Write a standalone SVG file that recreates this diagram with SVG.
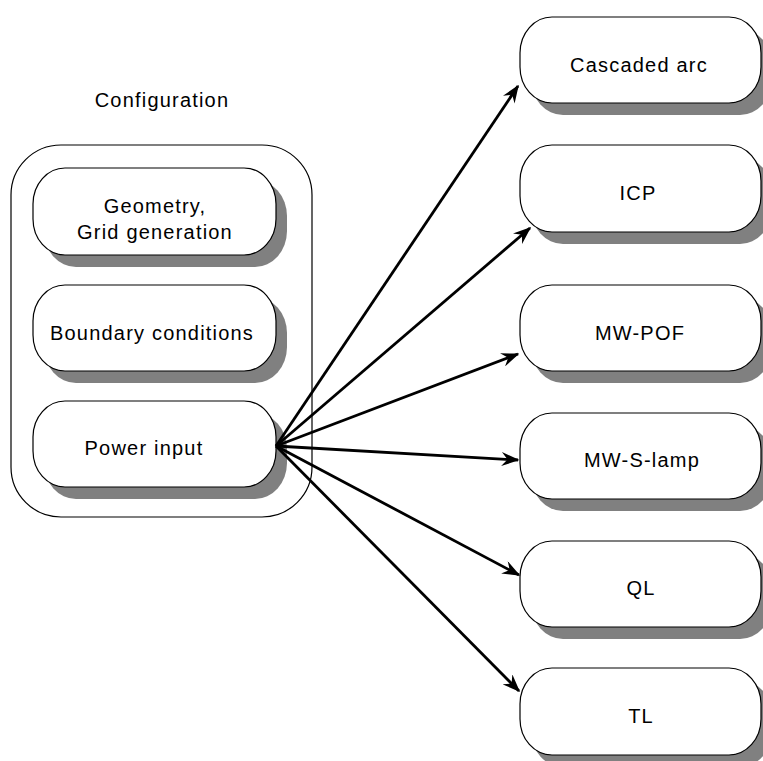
<svg xmlns="http://www.w3.org/2000/svg" width="763" height="761" viewBox="0 0 763 761">
<style>
.box{fill:#fff;stroke:#000;stroke-width:1.2}
.shadow{fill:#808080;stroke:none}
.outer{fill:#fff;stroke:#000;stroke-width:1.2}
.lbl{font-family:"Liberation Sans",Arial,sans-serif;font-size:20px;letter-spacing:1.2px;fill:#000;text-anchor:middle}
.edge{stroke:#000;stroke-width:2.8;fill:none;marker-end:url(#arr)}
</style>
<defs>
<marker id="arr" viewBox="0 0 18 14" refX="16.5" refY="7" markerWidth="18" markerHeight="14" markerUnits="userSpaceOnUse" orient="auto">
<path d="M0,0 L18,7 L0,14 L6,7 z" fill="#000"/>
</marker>
</defs>
<rect width="763" height="761" fill="#fff"/>

<g id="configuration">
<rect class="outer" x="11" y="145" width="301" height="372" rx="50" ry="50"/>
<text class="lbl" x="162" y="107">Configuration</text>
</g>

<g id="geometry">
<rect class="shadow" x="44" y="180" width="243" height="87" rx="32" ry="36"/>
<rect class="box" x="33" y="168" width="243" height="87" rx="32" ry="36"/>
<text class="lbl" x="155" y="213">Geometry,</text>
<text class="lbl" x="155" y="239">Grid generation</text>
</g>

<g id="boundary">
<rect class="shadow" x="44" y="297" width="243" height="86" rx="32" ry="36"/>
<rect class="box" x="33" y="285" width="243" height="86" rx="32" ry="36"/>
<text class="lbl" x="152" y="340">Boundary conditions</text>
</g>

<g id="power">
<rect class="shadow" x="44" y="413" width="243" height="86" rx="32" ry="36"/>
<rect class="box" x="33" y="401" width="243" height="86" rx="32" ry="36"/>
<text class="lbl" x="144" y="455">Power input</text>
</g>

<g id="cascaded">
<rect class="shadow" x="531" y="29" width="241" height="86" rx="32" ry="36"/>
<rect class="box" x="520" y="17" width="241" height="86" rx="32" ry="36"/>
<text class="lbl" x="639" y="72">Cascaded arc</text>
</g>

<g id="icp">
<rect class="shadow" x="531" y="157" width="241" height="87" rx="32" ry="36"/>
<rect class="box" x="520" y="145" width="241" height="87" rx="32" ry="36"/>
<text class="lbl" x="638" y="200">ICP</text>
</g>

<g id="mwpof">
<rect class="shadow" x="531" y="297" width="241" height="86" rx="32" ry="36"/>
<rect class="box" x="520" y="285" width="241" height="86" rx="32" ry="36"/>
<text class="lbl" x="640" y="340">MW-POF</text>
</g>

<g id="mwslamp">
<rect class="shadow" x="531" y="425" width="241" height="86" rx="32" ry="36"/>
<rect class="box" x="520" y="413" width="241" height="86" rx="32" ry="36"/>
<text class="lbl" x="642" y="467">MW-S-lamp</text>
</g>

<g id="ql">
<rect class="shadow" x="531" y="553" width="241" height="86" rx="32" ry="36"/>
<rect class="box" x="520" y="541" width="241" height="86" rx="32" ry="36"/>
<text class="lbl" x="641" y="595">QL</text>
</g>

<g id="tl">
<rect class="shadow" x="531" y="680" width="241" height="87" rx="32" ry="36"/>
<rect class="box" x="520" y="668" width="241" height="87" rx="32" ry="36"/>
<text class="lbl" x="641" y="723">TL</text>
</g>

<g id="connectors">
<line class="edge" x1="276" y1="446" x2="518" y2="86"/>
<line class="edge" x1="276" y1="446" x2="530" y2="228"/>
<line class="edge" x1="276" y1="446" x2="518" y2="354"/>
<line class="edge" x1="276" y1="446" x2="518" y2="460"/>
<line class="edge" x1="276" y1="446" x2="519" y2="575"/>
<line class="edge" x1="276" y1="446" x2="519" y2="691"/>
</g>
</svg>
